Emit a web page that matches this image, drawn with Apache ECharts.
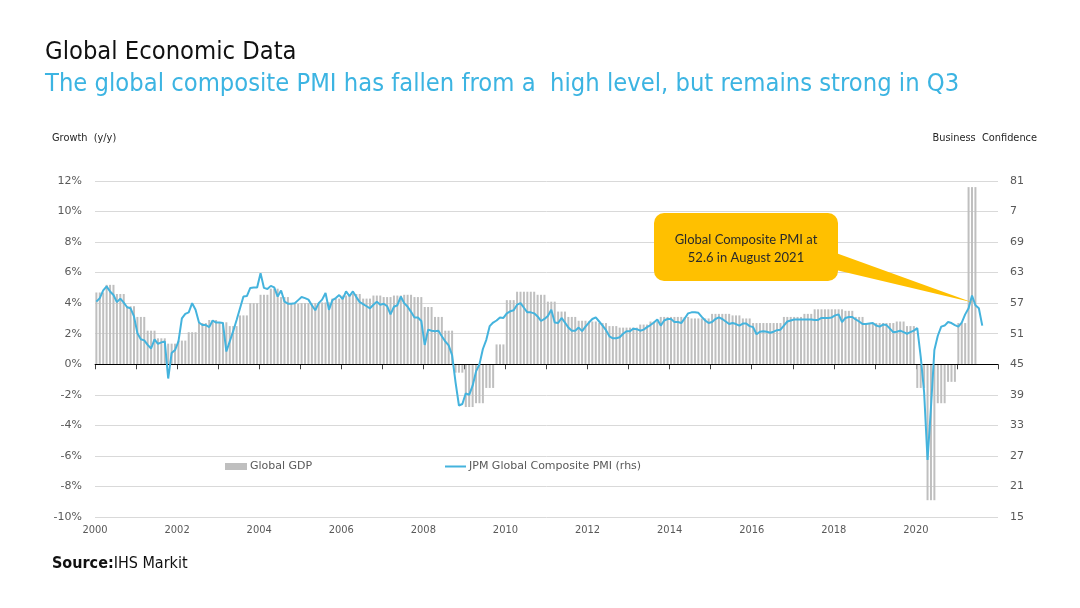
<!DOCTYPE html>
<html><head><meta charset="utf-8">
<script src="https://cdn.jsdelivr.net/npm/echarts@6.0.0/dist/echarts.min.js"></script>
<style>html,body{margin:0;padding:0;background:#fff}#c{width:1080px;height:608px}</style>
</head><body><div id="c"></div>
<script>
// ---- data ----
const startYear = 2000;
// Global GDP growth y/y (%), quarterly from 2000 Q1 to 2021 Q2
const gdpQuarterly = [
  4.7, 5.2, 4.6, 3.8,
  3.1, 2.2, 1.7, 1.35,
  1.55, 2.1, 2.7, 2.9,
  2.75, 2.5, 3.2, 4.0,
  4.55, 4.95, 4.4, 3.95,
  4.0, 4.0, 4.05, 4.3,
  4.5, 4.6, 4.3, 4.5,
  4.4, 4.5, 4.55, 4.4,
  3.75, 3.1, 2.2, -0.55,
  -2.8, -2.55, -1.55, 1.3,
  4.2, 4.75, 4.75, 4.55,
  4.1, 3.45, 3.1, 2.85,
  2.8, 2.7, 2.5, 2.4,
  2.4, 2.6, 2.8, 3.1,
  3.1, 3.1, 3.0, 3.0,
  3.3, 3.3, 3.2, 3.0,
  2.7, 2.7, 2.7, 3.1,
  3.1, 3.3, 3.6, 3.6,
  3.6, 3.5, 3.1, 2.7,
  2.7, 2.7, 2.8, 2.5,
  -1.55, -8.9, -2.55, -1.15,
  2.7, 11.6
];
// JPM Global Composite PMI, monthly from Jan 2000 to Aug 2021
const pmi2000 = [57.3, 58.0, 59.5, 60.3, 59.3, 58.6, 57.2, 57.9, 57.1, 56.2, 56.0, 54.4];
const pmi2001 = [51.1, 49.9, 49.7, 48.8, 48.1, 49.9, 49.0, 49.3, 49.5, 42.2, 47.2, 47.8];
const pmi2002 = [49.5, 54.0, 54.9, 55.2, 57.0, 55.7, 53.2, 52.7, 52.7, 52.3, 53.6, 53.2];
const pmi2003 = [53.2, 53.1, 47.5, 49.5, 51.5, 53.7, 56.0, 58.3, 58.4, 60.0, 60.1, 60.1];
const pmi2004 = [62.9, 60.0, 59.8, 60.4, 60.1, 58.3, 59.5, 57.3, 56.9, 56.9, 57.0, 57.6];
const pmi2005 = [58.2, 58.0, 57.7, 56.6, 55.6, 57.0, 57.7, 59.0, 55.7, 57.6, 58.0, 58.6];
const pmi2006 = [57.8, 59.3, 58.4, 59.3, 58.2, 57.2, 56.8, 56.4, 56.0, 56.7, 57.3, 56.7];
const pmi2007 = [56.9, 56.4, 54.8, 56.3, 56.6, 58.3, 57.0, 56.3, 55.3, 54.2, 54.2, 53.5];
const pmi2008 = [48.8, 51.8, 51.6, 51.5, 51.6, 50.5, 49.5, 48.7, 46.8, 41.5, 36.9, 37.2];
const pmi2009 = [39.3, 39.0, 40.8, 43.6, 45.0, 48.0, 49.8, 52.5, 53.2, 53.6, 54.2, 54.1];
const pmi2010 = [55.0, 55.4, 55.6, 56.7, 57.0, 56.1, 55.2, 55.2, 55.0, 54.4, 53.5, 53.9];
const pmi2011 = [54.5, 55.7, 53.2, 53.1, 54.1, 53.2, 52.2, 51.6, 51.6, 52.2, 51.5, 52.4];
const pmi2012 = [53.2, 53.9, 54.2, 53.4, 52.6, 51.7, 50.5, 50.1, 50.1, 50.3, 51.0, 51.5];
const pmi2013 = [51.5, 52.0, 51.9, 51.6, 51.8, 52.3, 52.7, 53.2, 53.8, 52.6, 53.6, 53.9];
const pmi2014 = [53.9, 53.3, 53.3, 53.1, 54.0, 55.0, 55.2, 55.2, 55.1, 54.3, 53.6, 53.1];
const pmi2015 = [53.3, 53.9, 54.2, 53.9, 53.4, 52.9, 53.1, 52.9, 52.6, 53.0, 53.0, 52.5];
const pmi2016 = [52.3, 50.9, 51.4, 51.5, 51.4, 51.2, 51.4, 51.7, 51.8, 52.6, 53.4, 53.6];
const pmi2017 = [53.8, 53.8, 53.8, 53.8, 53.8, 53.8, 53.7, 53.7, 54.1, 54.1, 54.1, 54.2];
const pmi2018 = [54.6, 54.8, 53.3, 54.1, 54.3, 54.3, 53.8, 53.4, 52.9, 52.9, 53.0, 53.1];
const pmi2019 = [52.6, 52.4, 52.8, 52.7, 52.0, 51.3, 51.4, 51.6, 51.3, 51.0, 51.3, 51.6];
const pmi2020 = [52.1, 46.5, 39.5, 26.2, 36.5, 47.8, 50.6, 52.4, 52.6, 53.3, 53.1, 52.7];
const pmi2021 = [52.4, 53.2, 54.8, 56.0, 58.5, 56.6, 56.0, 52.6];
const pmiMonthly = [].concat(pmi2000, pmi2001, pmi2002, pmi2003, pmi2004, pmi2005, pmi2006,
  pmi2007, pmi2008, pmi2009, pmi2010, pmi2011, pmi2012, pmi2013, pmi2014, pmi2015, pmi2016,
  pmi2017, pmi2018, pmi2019, pmi2020, pmi2021);
const leftTicks = { min: -10, max: 12, step: 2 };
const rightTicks = { min: 15, max: 81, step: 6 };
const rightLabelText = { 75: '7' };
const yearRange = { min: 2000, max: 2022 };
const seriesNames = ['Global GDP', 'JPM Global Composite PMI (rhs)'];
const calloutLines = ['Global Composite PMI at', '52.6 in August 2021'];
const calloutAnchor = { monthIndex: 256, value: 57.2 };

// ---- build ----
const monthPos = i => startYear + (i + 0.4) / 12;
const gdpData = [];
gdpQuarterly.forEach((v, q) => { for (let k = 0; k < 3; k++) gdpData.push([monthPos(q * 3 + k), v]); });
const pmiData = pmiMonthly.map((v, i) => [monthPos(i), v]);

const FONT = 'DejaVu Sans';
const NARROW = '"Liberation Sans Narrow", "DejaVu Sans Condensed", sans-serif';
const LABEL = '#595959';
const chart = echarts.init(document.getElementById('c'), null, { renderer: 'canvas' });
const option = {
  animation: false,
  backgroundColor: '#fff',
  grid: { left: 95, right: 82, top: 181, bottom: 91, containLabel: false },
  xAxis: {
    type: 'value', min: yearRange.min, max: yearRange.max, interval: 1,
    axisLine: { lineStyle: { color: '#404040', width: 1 } },
    axisTick: { show: true, length: 5, lineStyle: { color: '#404040' } },
    splitLine: { show: false },
    axisLabel: {
      margin: 8, color: LABEL, fontSize: 11, fontFamily: NARROW,
      formatter: v => (v % 2 === 0 && v < yearRange.max) ? String(v) : ''
    }
  },
  yAxis: [{
    type: 'value', min: leftTicks.min, max: leftTicks.max, interval: leftTicks.step,
    axisLine: { show: false }, axisTick: { show: false },
    splitLine: { lineStyle: { color: '#D9D9D9', width: 1 } },
    axisLabel: { margin: 13, color: LABEL, fontSize: 11, fontFamily: FONT, formatter: v => v + '%' }
  }, {
    type: 'value', position: 'right', min: rightTicks.min, max: rightTicks.max, interval: rightTicks.step,
    axisLine: { show: false }, axisTick: { show: false }, splitLine: { show: false },
    axisLabel: { margin: 12, color: LABEL, fontSize: 11, fontFamily: FONT,
      formatter: v => rightLabelText[v] !== undefined ? rightLabelText[v] : String(v) }
  }],
  legend: [{
    data: [seriesNames[0]], left: 220, top: 456, icon: 'rect', itemWidth: 22, itemHeight: 7, itemGap: 3,
    textStyle: { color: LABEL, fontSize: 11, fontFamily: FONT, padding: [0, 0, 0, -2] }
  }, {
    data: [seriesNames[1]], left: 440, top: 456, icon: 'rect', itemWidth: 21, itemHeight: 2,
    textStyle: { color: LABEL, fontSize: 11, fontFamily: FONT, padding: [0, 0, 0, -2] }
  }],
  series: [{
    name: seriesNames[0], type: 'bar', data: gdpData, barWidth: 2,
    itemStyle: { color: '#BFBFBF' }, yAxisIndex: 0,
    markLine: { silent: true, symbol: 'none', label: { show: false },
      lineStyle: { color: '#000', width: 1, type: 'solid' }, data: [{ yAxis: 0 }] }
  }, {
    name: seriesNames[1], type: 'line', data: pmiData, yAxisIndex: 1,
    showSymbol: false, symbol: 'none', lineStyle: { color: '#44B3DD', width: 2 },
    itemStyle: { color: '#44B3DD' }, z: 5
  }]
};
chart.setOption(option);

const tip = chart.convertToPixel({ xAxisIndex: 0, yAxisIndex: 1 }, [monthPos(calloutAnchor.monthIndex), calloutAnchor.value]);
const box = { x: 654, y: 213, w: 184, h: 68 };
chart.setOption({
  graphic: [
    { type: 'text', left: 45, top: 40, style: { text: 'Global Economic Data', fill: '#111', font: '25.3px ' + NARROW } },
    { type: 'text', left: 45, top: 72, style: { text: 'The global composite PMI has fallen from a  high level, but remains strong in Q3', fill: '#3CB4E2', font: '25.3px ' + NARROW } },
    { type: 'text', left: 52, top: 133, style: { text: 'Growth  (y/y)', fill: '#262626', font: '9.8px ' + FONT } },
    { type: 'text', right: 43, top: 133, style: { text: 'Business  Confidence', fill: '#262626', font: '9.8px ' + FONT } },
    { type: 'text', left: 52, top: 556, style: { text: '{b|Source:}IHS Markit', fill: '#111', font: '16px ' + NARROW,
        rich: { b: { fontWeight: 'bold', fontSize: 16, fontFamily: NARROW, fill: '#111' } } } },
    { type: 'polygon', z: 10, shape: { points: [[box.x + box.w - 2, box.y + 40], [box.x + box.w - 2, box.y + 57], [tip[0], tip[1]]] }, style: { fill: '#FFC000' } },
    { type: 'rect', z: 10, shape: { x: box.x, y: box.y, width: box.w, height: box.h, r: 10 }, style: { fill: '#FFC000' } },
    { type: 'text', z: 11, x: box.x + box.w / 2, y: box.y + box.h / 2 + 2,
      style: { text: calloutLines.join('\n'), fill: '#2a2a2a', font: '13px Lato', align: 'center', verticalAlign: 'middle', lineHeight: 18 } }
  ]
});
</script></body></html>
